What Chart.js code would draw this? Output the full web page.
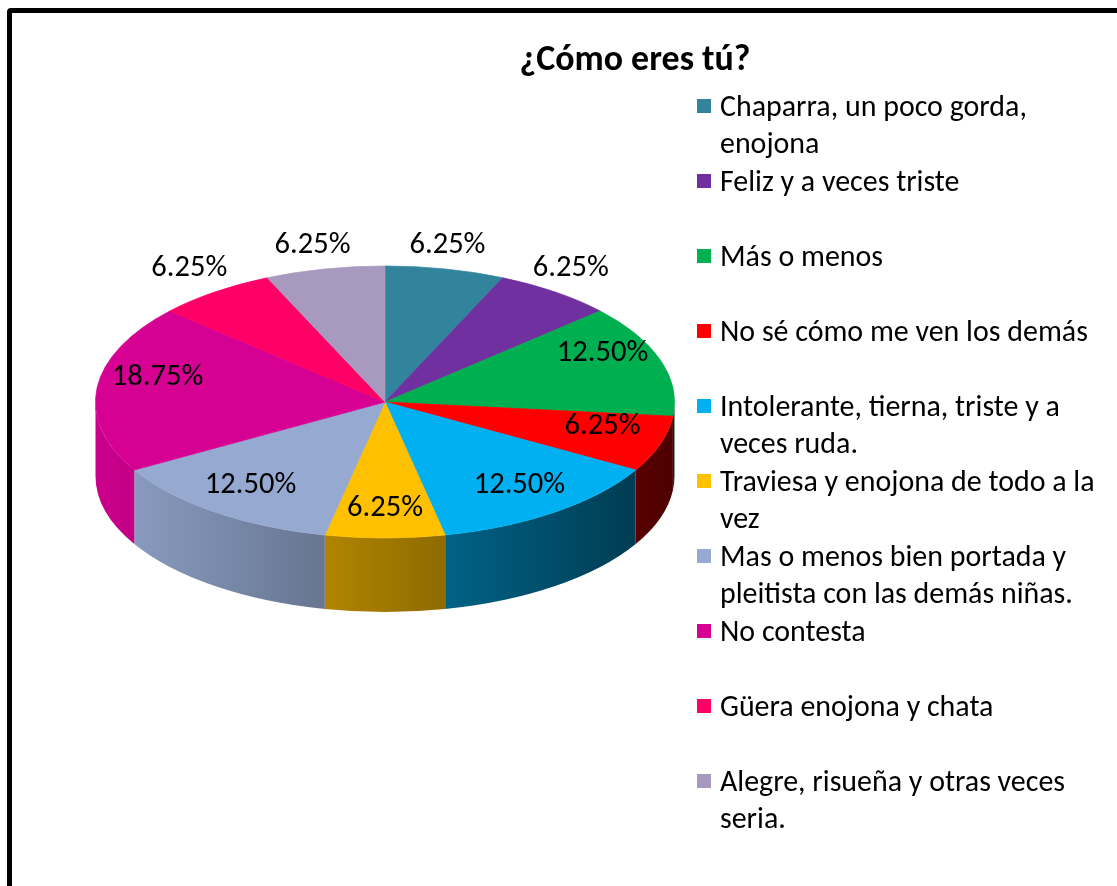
<!DOCTYPE html>
<html lang="es">
<head>
<meta charset="utf-8">
<title>¿Cómo eres tú?</title>
<script src="https://cdn.jsdelivr.net/npm/chart.js@4.4.1/dist/chart.umd.min.js"></script>
<style>
    html, body { margin:0; padding:0; background:#fff; overflow:hidden; }
    #wrap { position:relative; width:1117px; height:886px; overflow:hidden; font-family: Carlito, Lato, sans-serif; color:#000; }
    #frame { position:absolute; left:7px; top:8px; width:1200px; height:1000px; border:5px solid #000; border-radius:4px; }
    #pie { position:absolute; left:0; top:0; }
    #title { position:absolute; left:435px; width:400px; top:36px; text-align:center; font-weight:bold; line-height:44px; white-space:nowrap; }
    .item { position:absolute; left:697px; width:420px; }
    .sw { position:absolute; left:0; top:12px; width:14px; height:14px; }
    .tx { position:absolute; left:23px; width:388px; line-height:37px; }
</style>
</head>
<body>
<div id="wrap">
    <div id="frame"></div>
    <canvas id="pie" width="1117" height="886"></canvas>
    <div id="title"></div>
    <div id="legend"></div>
</div>
<script>
// ---------- Data ----------
const chartTitle = "¿Cómo eres tú?";
const categories = [
    "Chaparra, un poco gorda, enojona",
    "Feliz y a veces triste",
    "Más o menos",
    "No sé cómo me ven los demás",
    "Intolerante, tierna, triste y a veces ruda.",
    "Traviesa y enojona de todo a la vez",
    "Mas o menos bien portada y pleitista con las demás niñas.",
    "No contesta",
    "Güera enojona y chata",
    "Alegre, risueña y otras veces seria."
];
const values = [6.25, 6.25, 12.5, 6.25, 12.5, 6.25, 12.5, 18.75, 6.25, 6.25];
const colors = ["#31849B", "#7030A0", "#00B050", "#FF0000", "#00B0F0", "#FFC000", "#95A9D1", "#D60093", "#FF0066", "#A899BE"];

// ---------- Layout ----------
const PIE_CY = 402, PIE_RY = 136, PIE_DEPTH = 74;
const FONT = "Carlito, Lato, sans-serif";

function fitSize(text, weight, target) {
    const c = document.createElement("canvas").getContext("2d");
    c.font = weight + " 100px " + FONT;
    return 100 * target / c.measureText(text).width;
}
const legendPx = fitSize("No sé cómo me ven los demás", "normal", 368);
const labelPx = fitSize("6.25%", "normal", 76);
const titlePx = fitSize(chartTitle, "bold", 231);

function hexToRgb(h) { const n = parseInt(h.slice(1), 16); return [(n >> 16) & 255, (n >> 8) & 255, n & 255]; }
function shade(hex, f) { const c = hexToRgb(hex).map(v => Math.round(v * f)); return "rgb(" + c.join(",") + ")"; }

// ---------- Title + legend ----------
const titleEl = document.getElementById("title");
titleEl.textContent = chartTitle;
titleEl.style.fontSize = titlePx + "px";

const legendEl = document.getElementById("legend");
categories.forEach((c, i) => {
    const item = document.createElement("div");
    item.className = "item";
    item.style.top = (105 + 75 * i - 18.5) + "px";
    item.innerHTML = '<span class="sw" style="background:' + colors[i] + '"></span><span class="tx" style="font-size:' + legendPx + 'px">' + c + '</span>';
    legendEl.appendChild(item);
});

// ---------- 3D look: side wall, squashed top, labels ----------
const pie3d = {
    id: "pie3d",
    beforeDatasetsDraw(chart) {
        const ctx = chart.ctx;
        const arcs = chart.getDatasetMeta(0).data;
        const cx = arcs[0].x, cy0 = arcs[0].y, R = arcs[0].outerRadius;
        arcs.forEach((arc, i) => {
            const lo = Math.max(arc.startAngle, 0), hi = Math.min(arc.endAngle, Math.PI);
            if (hi <= lo) return;
            const g = ctx.createLinearGradient(cx - R, 0, cx + R, 0);
            g.addColorStop(0, shade(colors[i], 0.95));
            g.addColorStop(1, shade(colors[i], 0.3));
            ctx.beginPath();
            ctx.ellipse(cx, PIE_CY, R, PIE_RY, 0, lo, hi);
            ctx.ellipse(cx, PIE_CY + PIE_DEPTH, R, PIE_RY, 0, hi, lo, true);
            ctx.closePath();
            ctx.fillStyle = g;
            ctx.fill();
        });
        ctx.save();
        ctx.translate(cx, PIE_CY);
        ctx.scale(1, PIE_RY / R);
        ctx.translate(-cx, -cy0);
    },
    afterDatasetsDraw(chart) {
        const ctx = chart.ctx;
        ctx.restore();
        const arcs = chart.getDatasetMeta(0).data;
        ctx.save();
        ctx.font = labelPx + "px " + FONT;
        ctx.fillStyle = "#000";
        ctx.textAlign = "center";
        ctx.textBaseline = "middle";
        arcs.forEach((arc, i) => {
            const mid = (arc.startAngle + arc.endAngle) / 2;
            const cs = Math.cos(mid), sn = Math.sin(mid);
            const R = arc.outerRadius;
            let x, y;
            if (values[i] < 10 && sn < -0.5) {
                x = arc.x + R * cs + 35 * cs - 5;
                y = PIE_CY + PIE_RY * sn - 24;
            } else {
                x = arc.x + 0.79 * R * cs;
                y = PIE_CY + 0.87 * PIE_RY * sn - 12;
            }
            ctx.fillText(values[i].toFixed(2) + "%", x, y);
        });
        ctx.restore();
    }
};

new Chart(document.getElementById("pie"), {
    type: "pie",
    data: {
        labels: categories,
        datasets: [{
            data: values,
            backgroundColor: colors,
            borderColor: colors,
            borderWidth: 1,
            clip: false
        }]
    },
    options: {
        responsive: false,
        animation: false,
        layout: { padding: { left: 95, right: 442, top: 110, bottom: 196 } },
        plugins: { legend: { display: false }, tooltip: { enabled: false }, title: { display: false } }
    },
    plugins: [pie3d]
});
</script>
</body>
</html>
